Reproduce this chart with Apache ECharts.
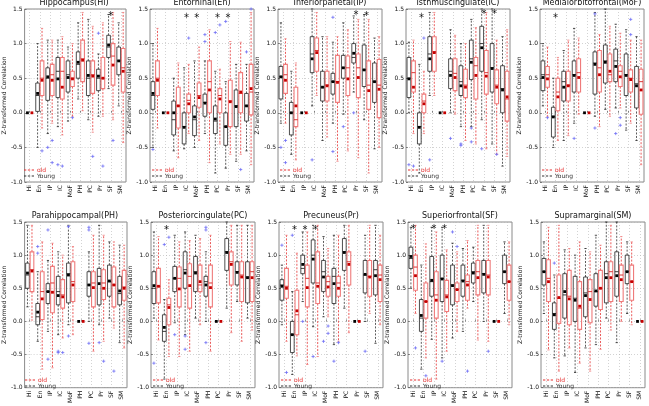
<!DOCTYPE html>
<html><head><meta charset="utf-8">
<script src="https://cdn.jsdelivr.net/npm/echarts@6/dist/echarts.min.js"></script>
<style>html,body{margin:0;padding:0;background:#fff}#c{width:649px;height:406px}</style>
</head><body><div id="c"></div>
<script>
const cats = ['Hi','En','IP','IC','MoF','PH','PC','Pr','SF','SM'];
const titles = ['Hippocampus(Hi)','Entorhinal(En)','Inferiorparietal(IP)','Isthmuscingulate(IC)','Medialorbitofrontal(MoF)','Parahippocampal(PH)','Posteriorcingulate(PC)','Precuneus(Pr)','Superiorfrontal(SF)','Supramarginal(SM)'];
const yTicks = [-1.0,-0.5,0.0,0.5,1.0,1.5];
// each row: [lowWhisker, q1, median, q3, highWhisker, mean]
const Z = [0,0,0,0,0,0];
const hiYoung = [Z,[-0.5,0.02,0.25,0.43,1.0,0.28],[-0.3,0.18,0.5,0.65,1.05,0.52],[-0.2,0.22,0.6,0.8,1.05,0.49],[-0.12,0.3,0.55,0.75,0.95,0.51],[0.2,0.5,0.7,0.88,1.3,0.73],[-0.1,0.25,0.5,0.75,1.35,0.54],[-0.05,0.32,0.5,0.63,0.85,0.53],[0.35,0.8,0.95,1.12,1.42,0.98],[0.1,0.55,0.75,0.95,1.3,0.75]];
const hiOld = [Z,[-0.22,0.25,0.5,0.75,1.22,0.47],[-0.15,0.25,0.55,0.7,1.05,0.47],[-0.32,0.2,0.6,0.8,1.1,0.37],[-0.05,0.38,0.5,0.6,1.0,0.49],[0.03,0.45,0.78,1.05,1.45,0.76],[-0.28,0.28,0.55,0.75,1.25,0.53],[-0.05,0.35,0.5,0.8,1.3,0.5],[-0.1,0.4,0.82,1.0,1.45,0.69],[-0.43,0.3,0.65,0.93,1.45,0.6]];
const hiOut = [[1,1,-0.55],[2,0,-0.5],[2,1,-0.72],[2,1,-0.4],[3,0,-0.75],[3,1,-0.77],[4,1,-0.07],[6,1,-0.63],[7,0,1.15],[7,1,-0.77],[8,1,-0.4]];
const hiStar = [[8,1.42]];

const enYoung = [[-0.5,0.05,0.25,0.45,1.0,0.28],Z,[-0.55,-0.32,-0.1,0.17,0.5,0.0],[-0.52,-0.45,-0.2,0.0,0.65,-0.21],[-0.5,-0.33,-0.1,0.1,0.75,-0.06],[-0.3,-0.05,0.15,0.27,0.75,0.14],[-0.87,-0.3,-0.12,0.1,0.6,-0.09],[-0.8,-0.47,-0.2,0.0,0.45,-0.2],[-0.7,-0.2,0.1,0.33,0.7,0.09],[-0.55,-0.12,0.1,0.28,0.7,0.1]];
const enOld = [[-0.22,0.25,0.5,0.75,1.22,0.47],Z,[-0.65,-0.22,0.1,0.37,0.72,0.1],[-0.3,0.0,0.18,0.27,0.7,0.13],[-0.4,0.08,0.25,0.43,0.95,0.22],[-0.72,0.0,0.45,0.75,1.2,0.33],[-0.45,0.0,0.25,0.35,0.63,0.2],[-0.6,-0.2,0.17,0.47,1.03,0.16],[-0.6,0.0,0.28,0.58,1.02,0.3],[-0.75,-0.03,0.3,0.7,1.45,0.35]];
const enOut = [[0,0,-0.53],[3,1,1.08],[5,0,1.13],[5,0,1.03],[6,0,1.16],[6,1,1.27],[7,0,1.32],[8,1,-0.82],[9,0,0.88],[9,1,1.5]];
const enStar = [[3,1.4],[4,1.4],[6,1.4],[7,1.4]];

const ipYoung = [[-0.15,0.2,0.52,0.67,1.3,0.52],[-0.6,-0.32,0.0,0.15,0.6,0.0],Z,[0.1,0.58,0.85,1.1,1.5,0.78],[-0.4,0.17,0.37,0.6,1.1,0.37],[-0.15,0.27,0.45,0.57,1.02,0.45],[-0.02,0.5,0.65,0.83,1.3,0.65],[0.3,0.72,0.8,1.0,1.4,0.86],[-0.1,0.38,0.62,0.98,1.42,0.62],[-0.52,0.15,0.45,0.72,1.08,0.45]];
const ipOld = [[-0.15,0.28,0.55,0.7,1.07,0.47],[-0.68,-0.2,-0.1,0.37,0.72,0.1],Z,[0.25,0.6,0.9,1.08,1.45,0.87],[-0.35,0.17,0.4,0.6,1.1,0.39],[-0.7,0.15,0.45,0.83,1.1,0.44],[-0.55,0.25,0.65,0.82,1.2,0.49],[-0.65,0.22,0.65,0.85,1.35,0.51],[-0.87,0.05,0.4,0.75,1.35,0.32],[-0.5,-0.07,0.4,0.77,1.1,0.34]];
const ipOut = [[0,0,-0.5],[0,1,-0.4],[0,1,-0.72],[3,0,-0.68],[5,0,1.38],[5,0,-0.56],[6,0,-0.2],[7,0,0.0]];
const ipStar = [[7,1.43],[8,1.42]];

const icYoung = [[0.0,0.22,0.5,0.8,1.02,0.49],[-0.87,-0.45,-0.2,0.0,0.7,-0.21],[0.25,0.6,0.85,1.1,1.45,0.78],Z,[0.0,0.35,0.6,0.78,1.2,0.54],[-0.2,0.25,0.45,0.68,1.0,0.39],[-0.2,0.48,0.78,1.05,1.35,0.73],[-0.1,0.6,1.0,1.25,1.5,0.94],[-0.45,0.3,0.65,1.0,1.5,0.64],[-0.77,0.0,0.35,0.68,1.1,0.33]];
const icOld = [[-0.3,0.3,0.58,0.75,1.05,0.37],[-0.3,0.0,0.17,0.27,0.6,0.13],[0.25,0.6,0.88,1.1,1.45,0.87],Z,[-0.02,0.32,0.57,0.78,1.12,0.51],[-0.4,0.22,0.4,0.63,1.0,0.37],[-0.45,0.2,0.68,0.8,1.23,0.54],[-0.52,0.27,0.58,0.9,1.45,0.53],[-0.6,0.13,0.4,0.62,1.05,0.37],[-0.63,-0.12,0.2,0.6,1.2,0.23]];
const icOut = [[0,0,-0.75],[0,1,-0.77],[1,1,1.08],[2,0,-0.68],[4,0,-0.37],[5,0,-0.45],[5,0,-0.47],[6,0,-0.42],[6,0,-0.22],[7,0,-0.52],[8,1,-0.6]];
const icStar = [[1,1.4],[7,1.45],[8,1.45]];

const mofYoung = [[0.1,0.32,0.55,0.75,1.0,0.51],[-0.5,-0.35,-0.05,0.08,0.5,-0.06],[-0.4,0.17,0.45,0.6,0.9,0.37],[-0.15,0.3,0.55,0.75,1.22,0.54],Z,[-0.05,0.27,0.72,0.88,1.45,0.7],[0.05,0.43,0.75,0.98,1.5,0.73],[0.07,0.45,0.75,0.92,1.28,0.67],[-0.25,0.25,0.55,0.85,1.2,0.54],[-0.4,0.07,0.42,0.67,1.1,0.39]];
const mofOld = [[-0.05,0.37,0.55,0.67,0.95,0.49],[-0.4,0.03,0.3,0.5,0.8,0.23],[-0.33,0.17,0.4,0.6,1.05,0.39],[-0.02,0.3,0.58,0.78,1.08,0.51],Z,[-0.2,0.3,0.65,0.9,1.13,0.55],[-0.05,0.45,0.55,0.85,1.25,0.6],[0.07,0.38,0.6,0.68,1.15,0.52],[-0.15,0.3,0.5,0.62,1.05,0.48],[-0.75,-0.02,0.45,0.63,1.05,0.33]];
const mofOut = [[0,1,-0.07],[3,0,-0.37],[5,0,1.43],[5,0,-0.22],[7,0,-0.3],[7,1,-0.07],[7,1,-0.18],[8,1,1.35],[8,1,1.13]];
const mofStar = [[1,1.4]];

const phYoung = [[0.22,0.5,0.7,0.88,1.45,0.73],[-0.3,-0.05,0.07,0.27,0.75,0.14],[-0.15,0.27,0.45,0.57,0.92,0.45],[-0.2,0.25,0.45,0.68,1.05,0.39],[-0.05,0.28,0.72,0.88,1.45,0.7],Z,[0.0,0.38,0.55,0.75,1.05,0.55],[-0.05,0.25,0.68,0.8,1.45,0.57],[0.05,0.38,0.6,0.85,1.2,0.61],[-0.32,0.25,0.42,0.68,1.15,0.46]];
const phOld = [[0.02,0.45,0.78,1.05,1.45,0.76],[-0.72,0.03,0.45,0.75,1.2,0.34],[-0.7,0.13,0.58,0.83,1.18,0.44],[-0.25,0.2,0.4,0.63,1.0,0.37],[-0.2,0.3,0.6,0.9,1.13,0.55],Z,[-0.45,0.22,0.58,0.75,1.3,0.51],[-0.3,0.33,0.58,0.78,1.3,0.5],[-0.1,0.22,0.55,0.82,1.2,0.55],[-0.4,0.32,0.52,0.77,1.15,0.5]];
const phOut = [[1,0,1.13],[1,0,1.03],[2,0,1.38],[2,0,-0.57],[3,0,-0.45],[3,0,-0.47],[3,1,-0.47],[4,0,1.43],[4,0,-0.22],[6,0,1.42],[6,0,1.38],[6,0,-0.33],[7,0,-0.32],[7,1,-0.6],[8,1,-0.75]];
const phStar = [];

const pcYoung = [[0.05,0.27,0.5,0.75,1.35,0.54],[-0.87,-0.3,-0.15,0.1,0.33,-0.09],[-0.02,0.45,0.65,0.83,1.3,0.65],[-0.2,0.5,0.78,1.05,1.35,0.73],[0.05,0.45,0.75,0.98,1.3,0.73],[0.0,0.38,0.6,0.68,1.05,0.55],Z,[0.2,0.77,1.05,1.25,1.5,1.04],[0.3,0.55,0.75,0.9,1.45,0.74],[0.05,0.28,0.67,0.9,1.45,0.66]];
const pcOld = [[-0.28,0.28,0.53,0.8,1.28,0.53],[-0.53,-0.05,0.25,0.35,0.63,0.21],[-0.53,0.22,0.65,0.82,1.2,0.49],[-0.45,0.2,0.68,0.87,1.22,0.54],[-0.05,0.45,0.55,0.85,1.25,0.6],[-0.45,0.22,0.58,0.85,1.3,0.51],Z,[-0.17,0.55,0.9,1.05,1.45,0.86],[-0.3,0.3,0.7,0.9,1.45,0.67],[-0.13,0.3,0.75,0.9,1.45,0.66]];
const pcOut = [[0,0,-0.63],[1,0,1.16],[1,1,1.27],[2,0,-0.2],[3,0,-0.22],[3,0,-0.42],[5,0,1.42],[5,0,1.38],[5,0,-0.32]];
const pcStar = [[1,1.4]];

const prYoung = [[-0.05,0.32,0.55,0.63,0.85,0.53],[-0.8,-0.47,-0.2,0.0,0.45,-0.2],[0.3,0.72,0.8,1.0,1.35,0.86],[-0.08,0.58,1.0,1.23,1.45,0.94],[0.07,0.45,0.75,0.92,1.28,0.67],[-0.35,0.27,0.68,0.8,1.3,0.57],[0.2,0.77,1.05,1.25,1.45,1.04],Z,[0.0,0.43,0.7,0.92,1.3,0.71],[-0.33,0.4,0.78,0.92,1.45,0.69]];
const prOld = [[-0.3,0.35,0.53,0.8,1.3,0.5],[-0.52,-0.2,0.1,0.47,1.03,0.16],[-0.65,0.22,0.65,0.85,1.35,0.51],[-0.53,0.27,0.58,1.05,1.45,0.53],[0.07,0.38,0.6,0.68,1.1,0.52],[-0.3,0.38,0.58,0.68,1.3,0.5],[-0.17,0.55,0.9,1.05,1.45,0.86],Z,[0.12,0.38,0.68,0.92,1.45,0.67],[-0.05,0.3,0.7,0.85,1.3,0.63]];
const prOut = [[0,0,1.15],[0,1,-0.77],[1,0,1.3],[2,0,0.0],[3,0,-0.53],[4,0,-0.3],[4,1,-0.07],[4,1,-0.18],[5,1,-0.32],[5,0,-0.6],[8,0,-0.45]];
const prStar = [[1,1.4],[2,1.4],[3,1.4]];

const sfYoung = [[0.5,0.8,0.95,1.12,1.42,0.98],[-0.72,-0.15,0.05,0.33,0.85,0.09],[-0.27,0.38,0.6,0.98,1.42,0.62],[-0.55,0.3,0.65,1.0,1.42,0.64],[-0.25,0.25,0.55,0.85,1.18,0.54],[-0.15,0.38,0.62,0.85,1.1,0.61],[0.3,0.58,0.75,0.88,1.12,0.73],[0.0,0.43,0.72,0.92,1.45,0.71],Z,[0.12,0.57,0.75,1.0,1.2,0.75]];
const sfOld = [[0.12,0.47,0.82,1.0,1.45,0.69],[-0.55,0.05,0.3,0.58,1.17,0.3],[-0.87,0.05,0.4,0.75,1.35,0.32],[-0.45,0.15,0.4,0.62,1.08,0.37],[-0.15,0.3,0.48,0.58,1.05,0.48],[0.2,0.32,0.6,0.7,1.22,0.55],[-0.28,0.4,0.75,0.92,1.45,0.66],[-0.3,0.4,0.7,0.92,1.45,0.67],Z,[-0.05,0.32,0.6,0.85,1.2,0.6]];
const sfOut = [[0,1,-0.4],[1,1,-0.82],[3,0,-0.6],[4,0,1.35],[4,1,1.13],[5,1,-0.75],[7,1,-0.45]];
const sfStar = [[0,1.42],[2,1.42],[3,1.42]];

const smYoung = [[0.12,0.55,0.75,0.95,1.2,0.75],[-0.55,-0.12,0.12,0.28,0.7,0.1],[-0.52,0.05,0.4,0.72,1.08,0.45],[-0.77,0.0,0.35,0.68,1.0,0.32],[-0.4,0.07,0.43,0.67,1.1,0.39],[-0.35,0.23,0.45,0.72,1.3,0.46],[0.05,0.28,0.72,0.9,1.5,0.66],[-0.32,0.38,0.75,1.05,1.5,0.69],[0.12,0.57,0.75,1.0,1.2,0.75],Z];
const smOld = [[-0.43,0.3,0.65,0.93,1.42,0.6],[-0.75,-0.03,0.35,0.7,1.45,0.36],[-0.4,-0.05,0.38,0.77,1.1,0.34],[-0.63,-0.12,0.2,0.6,1.2,0.23],[-0.75,-0.02,0.45,0.63,1.05,0.33],[-0.42,0.18,0.5,0.77,1.15,0.5],[-0.13,0.3,0.75,0.9,1.45,0.66],[0.0,0.3,0.7,0.85,1.28,0.63],[-0.05,0.32,0.6,0.85,1.2,0.6],Z];
const smOut = [[1,0,0.88]];
const smStar = [];

const panels = [
  [hiYoung,hiOld,hiOut,hiStar],[enYoung,enOld,enOut,enStar],[ipYoung,ipOld,ipOut,ipStar],[icYoung,icOld,icOut,icStar],[mofYoung,mofOld,mofOut,mofStar],
  [phYoung,phOld,phOut,phStar],[pcYoung,pcOld,pcOut,pcStar],[prYoung,prOld,prOut,prStar],[sfYoung,sfOld,sfOut,sfStar],[smYoung,smOld,smOut,smStar]
];

const OFF = 0.22, BW = 0.36;
function boxRenderer(sign, boxColor, whColor, medColor, meanColor, lw) {
  return function (params, api) {
    const c = api.value(0);
    const band = api.size([1, 0])[0];
    const x = api.coord([c, 0])[0] + sign * OFF * band;
    const bw = band * BW;
    const Y = v => api.coord([c, v])[1];
    const lo = api.value(1), q1 = api.value(2), md = api.value(3), q3 = api.value(4), hi = api.value(5), mn = api.value(6);
    const ch = [];
    if (hi > lo) {
      const dash = {stroke: whColor, lineWidth: 0.8, lineDash: [2, 1.5]};
      ch.push({type: 'line', shape: {x1: x, y1: Y(q3), x2: x, y2: Y(hi)}, style: dash});
      ch.push({type: 'line', shape: {x1: x, y1: Y(q1), x2: x, y2: Y(lo)}, style: dash});
      ch.push({type: 'line', shape: {x1: x - bw * 0.3, y1: Y(hi), x2: x + bw * 0.3, y2: Y(hi)}, style: {stroke: boxColor, lineWidth: 0.8}});
      ch.push({type: 'line', shape: {x1: x - bw * 0.3, y1: Y(lo), x2: x + bw * 0.3, y2: Y(lo)}, style: {stroke: boxColor, lineWidth: 0.8}});
      ch.push({type: 'rect', shape: {x: x - bw / 2, y: Y(q3), width: bw, height: Y(q1) - Y(q3)}, style: {fill: 'none', stroke: boxColor, lineWidth: lw}});
      ch.push({type: 'line', shape: {x1: x - bw / 2, y1: Y(md), x2: x + bw / 2, y2: Y(md)}, style: {stroke: medColor, lineWidth: 0.9}});
    }
    ch.push({type: 'rect', shape: {x: x - 1.4, y: Y(mn) - 1.4, width: 2.8, height: 2.8}, style: {fill: meanColor}});
    return {type: 'group', children: ch};
  };
}
function outRenderer(params, api) {
  const c = api.value(0), g = api.value(1), v = api.value(2);
  const band = api.size([1, 0])[0];
  const x = api.coord([c, 0])[0] + (g ? OFF : -OFF) * band;
  const y = api.coord([c, v])[1];
  const st = {stroke: '#6f6ff5', lineWidth: 0.8};
  return {type: 'group', children: [
    {type: 'line', shape: {x1: x - 1.6, y1: y, x2: x + 1.6, y2: y}, style: st},
    {type: 'line', shape: {x1: x, y1: y - 1.6, x2: x, y2: y + 1.6}, style: st}
  ]};
}
function starRenderer(params, api) {
  const p = api.coord([api.value(0), api.value(1)]);
  return {type: 'text', x: p[0], y: p[1] + 2, style: {text: '*', fontSize: 10, fontFamily: 'DejaVu Sans', fill: '#111', align: 'center', verticalAlign: 'middle'}};
}

const dashIcon = 'path://M0,0h3v1h-3zM5,0h3v1h-3zM10,0h3v1h-3z';
const topLefts = [22, 150, 278, 406, 540];
const botLefts = [23, 151, 279, 408, 541];
const W = 104;
const grids = [], xAxes = [], yAxes = [], series = [], legends = [], graphics = [];
panels.forEach((p, i) => {
  const row = i < 5 ? 0 : 1;
  const left = row ? botLefts[i - 5] : topLefts[i];
  const top = row ? 222 : 9;
  const h = row ? 170 : 173;
  grids.push({left: left, top: top, width: W, height: h, show: true, borderColor: '#8a8a8a', borderWidth: 1, backgroundColor: 'transparent'});
  xAxes.push({type: 'category', gridIndex: i, data: cats, boundaryGap: true,
    axisLine: {show: false},
    axisTick: {show: true, inside: true, alignWithLabel: true, length: 2, lineStyle: {color: '#444', width: 0.6}},
    axisLabel: {rotate: 90, interval: 0, fontSize: 6, color: '#111', margin: 3, fontFamily: 'DejaVu Sans'},
    splitLine: {show: true, interval: 0, alignWithLabel: true, lineStyle: {type: [1, 2], color: '#b5b5b5', width: 0.6}}
  });
  yAxes.push({type: 'value', gridIndex: i, min: yTicks[0], max: yTicks[yTicks.length - 1], interval: 0.5,
    axisLine: {show: false},
    axisTick: {show: true, inside: true, length: 2, lineStyle: {color: '#444', width: 0.6}},
    axisLabel: {fontSize: 6, color: '#111', margin: 2, fontFamily: 'DejaVu Sans', formatter: v => v.toFixed(1)},
    splitLine: {show: true, lineStyle: {type: [1, 2], color: '#b5b5b5', width: 0.6}},
    name: 'Z-transformed Correlation', nameLocation: 'middle', nameGap: 13, nameRotate: 90,
    nameTextStyle: {fontSize: 6, color: '#111', fontFamily: 'DejaVu Sans'}
  });
  series.push({type: 'custom', name: 'Young', xAxisIndex: i, yAxisIndex: i, animation: false, silent: true, z: 3,
    itemStyle: {color: '#222'}, encode: {x: 0, y: [1, 2, 3, 4, 5, 6]},
    renderItem: boxRenderer(-1, '#222', '#333', '#222', '#000', 0.8),
    data: p[0].map((d, k) => [k].concat(d))});
  series.push({type: 'custom', name: 'old', xAxisIndex: i, yAxisIndex: i, animation: false, silent: true, z: 3,
    itemStyle: {color: '#e53030'}, encode: {x: 0, y: [1, 2, 3, 4, 5, 6]},
    renderItem: boxRenderer(1, '#ef7b7b', '#e53030', '#d42020', '#c40000', 1.1),
    data: p[1].map((d, k) => [k].concat(d))});
  series.push({type: 'custom', xAxisIndex: i, yAxisIndex: i, animation: false, silent: true, z: 4,
    encode: {x: 0, y: 2}, renderItem: outRenderer, data: p[2]});
  series.push({type: 'custom', xAxisIndex: i, yAxisIndex: i, animation: false, silent: true, z: 5,
    encode: {x: 0, y: 1}, renderItem: starRenderer, data: p[3]});
  legends.push({left: left + 2, top: top + h - 15, orient: 'vertical', itemGap: 0, itemWidth: 10, itemHeight: 1,
    symbolKeepAspect: false, padding: 0, selectedMode: false,
    textStyle: {fontSize: 6, fontFamily: 'DejaVu Sans', padding: [0, 0, 0, -2]},
    data: [
      {name: 'old', icon: dashIcon, itemStyle: {color: '#e53030'}, textStyle: {color: '#e53030'}},
      {name: 'Young', icon: dashIcon, itemStyle: {color: '#333'}, textStyle: {color: '#333'}}
    ]});
  graphics.push({type: 'text', x: left + W / 2, y: top - 2, silent: true,
    style: {text: titles[i], fontSize: 8, fontFamily: 'DejaVu Sans', fill: '#111', align: 'center', verticalAlign: 'bottom'}});
});

const chart = echarts.init(document.getElementById('c'), null, {renderer: 'canvas'});
chart.setOption({
  animation: false,
  backgroundColor: '#fff',
  grid: grids, xAxis: xAxes, yAxis: yAxes, series: series, legend: legends, graphic: graphics
});
</script></body></html>
